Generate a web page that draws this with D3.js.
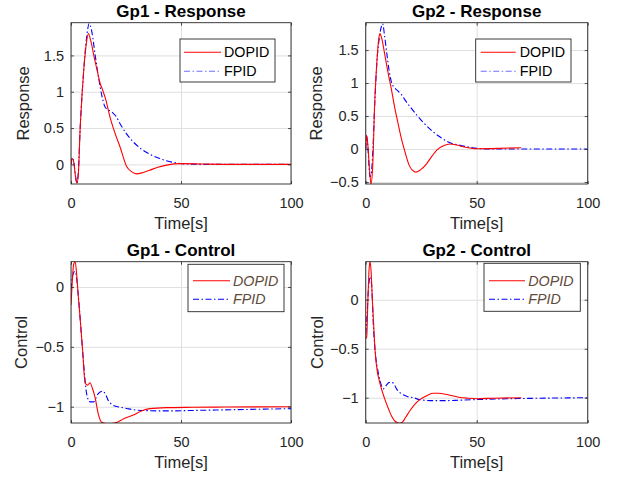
<!DOCTYPE html>
<html lang="en">
<head>
<meta charset="UTF-8">
<title>Gp1 / Gp2 - Response and Control</title>
<style>
  body { margin: 0; background: #fff; }
  svg { font-family: "Liberation Sans", Arial, Helvetica, sans-serif; }
  .tick text { fill: #262626; font-size: 14.5px; }
  .tick line { stroke: #262626; stroke-width: 0.8; }
  .grid .tick line { stroke: #dfdfdf; stroke-width: 1; }
  .title { font-size: 17px; font-weight: bold; fill: #000; }
  .label { font-size: 16.5px; fill: #262626; }
  .legend text { font-size: 14.3px; }
</style>
</head>
<body>
<script src="https://d3js.org/d3.v7.min.js"></script>
<script>
// ticks
const timeTicks = [0, 50, 100];
const respTicks1 = [0, 0.5, 1, 1.5];
const respTicks2 = [-0.5, 0, 0.5, 1, 1.5];
const ctrlTicks = [-1, -0.5, 0];
const seriesNames = ["DOPID", "FPID"];

// Gp1 - Response
const t_gp1_resp_dopid = [0, 0.5, 1.2, 2, 2.7, 3.4, 4.1, 5, 5.8, 6.8, 7.9, 9, 10.5, 12, 13.3, 14.3, 15.9, 17.7, 20, 22.3, 25.3, 27.5, 29.8, 32.5, 35.8, 39.5, 43.4, 50, 60, 75, 100];
const v_gp1_resp_dopid = [0, 0.08, 0.04, -0.16, -0.26, -0.1, 0.45, 0.95, 1.3, 1.62, 1.80, 1.70, 1.48, 1.28, 1.11, 1.03, 0.88, 0.655, 0.43, 0.24, -0.03, -0.10, -0.13, -0.115, -0.08, -0.04, -0.01, 0.01, 0.005, 0, 0];
const t_gp1_resp_fpid = [0, 0.5, 1.2, 2, 2.7, 3.4, 4.1, 5, 5.8, 7, 8.3, 9.5, 11, 12.5, 14, 15.5, 17, 19, 20.5, 22.3, 25, 28.3, 32, 35.8, 40, 43.4, 47, 50.2, 60, 75, 100];
const v_gp1_resp_fpid = [0, 0.09, 0.05, -0.15, -0.26, -0.08, 0.45, 0.95, 1.3, 1.72, 1.94, 1.82, 1.50, 1.20, 0.95, 0.79, 0.75, 0.71, 0.66, 0.56, 0.43, 0.31, 0.21, 0.14, 0.085, 0.05, 0.025, 0.01, 0, 0, 0];

// Gp2 - Response
const t_gp2_resp_dopid = [0, 0.4, 1, 1.7, 2.4, 3.1, 4.1, 5, 5.8, 6.4, 7.2, 8.5, 10, 11.5, 13, 14.5, 16, 17.5, 19.5, 21, 22.5, 24.5, 27.5, 30, 32, 35, 38, 41, 44, 50, 60, 70];
const v_gp2_resp_dopid = [0, 0.21, 0.05, -0.3, -0.53, -0.3, 0.74, 1.3, 1.65, 1.75, 1.68, 1.45, 1.17, 0.92, 0.64, 0.40, 0.17, -0.02, -0.24, -0.32, -0.35, -0.32, -0.22, -0.10, -0.015, 0.05, 0.076, 0.06, 0.035, 0.005, 0.01, 0.02];
const t_gp2_resp_fpid = [0, 0.4, 1, 1.9, 2.5, 3.1, 4.1, 5, 6, 6.8, 7.6, 8.5, 9.5, 10.6, 11.7, 13, 14.5, 16.2, 18, 20.5, 22.9, 26, 30.4, 34, 38, 42, 45.5, 50, 55, 70, 100];
const v_gp2_resp_fpid = [0, 0.2, 0.02, -0.42, -0.38, -0.1, 0.7, 1.3, 1.65, 1.82, 1.90, 1.72, 1.45, 1.18, 1.0, 0.93, 0.88, 0.82, 0.73, 0.62, 0.52, 0.40, 0.26, 0.17, 0.095, 0.06, 0.035, 0.01, 0, 0, 0];

// Gp1 - Control
const t_gp1_ctrl_dopid = [0, 0.6, 1.2, 1.9, 2.5, 3.2, 4.1, 5.3, 6.4, 7.5, 8.6, 9.8, 10.9, 12.4, 13.9, 16, 18.5, 21, 24, 28.3, 32, 35.9, 43.5, 55, 70, 100];
const v_gp1_ctrl_dopid = [-0.15, 0.05, 0.19, 0.21, 0.12, -0.05, -0.25, -0.53, -0.80, -0.82, -0.80, -0.85, -0.92, -1.06, -1.13, -1.14, -1.14, -1.13, -1.10, -1.07, -1.035, -1.016, -1.008, -1.005, -1.003, -1.0];
const t_gp1_ctrl_fpid = [0, 0.6, 1.2, 1.8, 2.5, 3.2, 4.1, 5.6, 7.1, 8.6, 10.2, 11.3, 12.4, 14.4, 15.8, 17, 18.5, 20, 22.5, 25.3, 28.3, 35, 43.5, 58.6, 73.7, 100];
const v_gp1_ctrl_fpid = [-0.02, 0.08, 0.12, 0.13, 0.08, -0.05, -0.25, -0.61, -0.89, -0.96, -0.96, -0.93, -0.89, -0.87, -0.90, -0.95, -0.98, -0.995, -1.005, -1.015, -1.025, -1.033, -1.035, -1.03, -1.025, -1.016];

// Gp2 - Control
const t_gp2_ctrl_dopid = [0, 0.45, 1, 1.5, 1.9, 2.4, 3, 3.4, 4.2, 4.9, 6.4, 8.7, 10.2, 11.7, 13.2, 15, 16.5, 18, 20, 22, 24.4, 27, 30.4, 33, 36, 39, 42.5, 46, 50, 57.6, 70];
const v_gp2_ctrl_dopid = [-0.4, -0.38, 0.0, 0.3, 0.39, 0.3, 0.0, -0.17, -0.51, -0.68, -0.85, -1.02, -1.11, -1.19, -1.24, -1.26, -1.25, -1.20, -1.13, -1.07, -1.02, -0.985, -0.955, -0.955, -0.965, -0.98, -0.997, -1.005, -1.01, -1.005, -1.0];
const t_gp2_ctrl_fpid = [0, 0.5, 1.2, 1.8, 2.2, 2.8, 3.4, 4.2, 5.7, 7, 7.9, 9.4, 10.5, 11.7, 13, 13.9, 15.5, 16.9, 19, 21.5, 24.4, 30, 35, 42.5, 55, 65, 100];
const v_gp2_ctrl_fpid = [-0.35, -0.2, 0.1, 0.22, 0.235, 0.1, -0.24, -0.51, -0.75, -0.87, -0.91, -0.87, -0.845, -0.84, -0.87, -0.91, -0.95, -0.97, -0.99, -1.0, -1.02, -1.03, -1.03, -1.025, -1.015, -1.01, -1.0];

const W = 627, H = 482;
const red = "#ff0000", blue = "#0000ff";

function pts(t, v) { return t.map((d, i) => [d, v[i]]); }

// panel layout (pixels)
const panels = [
  { title: "Gp1 - Response", ylabel: "Response", box: [71, 22.7, 291, 184], ydom: [-0.27, 1.95], yticks: respTicks1,
    lines: [pts(t_gp1_resp_dopid, v_gp1_resp_dopid), pts(t_gp1_resp_fpid, v_gp1_resp_fpid)],
    ylabOff: 42, legend: { x: 180, y: 39, w: 95, h: 43, r1: 13.3, r2: 32.3, l0: 4, l1: 41, tx: 44 }, italic: false },
  { title: "Gp2 - Response", ylabel: "Response", box: [365.7, 22.7, 587.7, 184], ydom: [-0.53, 1.915], yticks: respTicks2,
    lines: [pts(t_gp2_resp_dopid, v_gp2_resp_dopid), pts(t_gp2_resp_fpid, v_gp2_resp_fpid)],
    ylabOff: 43.5, legend: { x: 475.7, y: 39, w: 95.3, h: 43, r1: 13.3, r2: 32.3, l0: 5, l1: 40, tx: 44 }, italic: false },
  { title: "Gp1 - Control", ylabel: "Control", box: [71, 261.7, 291, 423], ydom: [-1.136, 0.211], yticks: ctrlTicks,
    lines: [pts(t_gp1_ctrl_dopid, v_gp1_ctrl_dopid), pts(t_gp1_ctrl_fpid, v_gp1_ctrl_fpid)],
    ylabOff: 44, legend: { x: 188, y: 264.3, w: 96, h: 47.4, r1: 16.4, r2: 35, l0: 5, l1: 42, tx: 45 }, italic: true },
  { title: "Gp2 - Control", ylabel: "Control", box: [365.7, 261.7, 587.7, 423], ydom: [-1.258, 0.388], yticks: ctrlTicks,
    lines: [pts(t_gp2_ctrl_dopid, v_gp2_ctrl_dopid), pts(t_gp2_ctrl_fpid, v_gp2_ctrl_fpid)],
    ylabOff: 43, legend: { x: 484, y: 263.3, w: 96.3, h: 48, r1: 17.4, r2: 36, l0: 5, l1: 41, tx: 44.3 }, italic: true }
];

const svg = d3.select("body").append("svg")
  .attr("width", W).attr("height", H);

panels.forEach(function(p, k) {
  const [x0, y0, x1, y1] = p.box;
  const x = d3.scaleLinear().domain([0, 100]).range([x0, x1]);
  const y = d3.scaleLinear().domain(p.ydom).range([y1, y0]);
  const g = svg.append("g");

  // white plot area
  g.append("rect").attr("x", x0).attr("y", y0).attr("width", x1 - x0).attr("height", y1 - y0).attr("fill", "#fff");

  // grid
  g.append("g").attr("class", "grid").attr("transform", `translate(0,${y1})`)
    .call(d3.axisBottom(x).tickValues(timeTicks).tickSize(-(y1 - y0)).tickFormat(""))
    .call(s => s.select(".domain").remove());
  g.append("g").attr("class", "grid").attr("transform", `translate(${x0},0)`)
    .call(d3.axisLeft(y).tickValues(p.yticks).tickSize(-(x1 - x0)).tickFormat(""))
    .call(s => s.select(".domain").remove());

  // curves
  const clipId = "clip" + k;
  svg.append("clipPath").attr("id", clipId)
    .append("rect").attr("x", x0).attr("y", y0).attr("width", x1 - x0).attr("height", y1 - y0);
  const line = d3.line().x(d => x(d[0])).y(d => y(d[1])).curve(d3.curveMonotoneX);
  const cg = g.append("g").attr("clip-path", `url(#${clipId})`);
  cg.append("path").datum(p.lines[1]).attr("d", line)
    .attr("fill", "none").attr("stroke", blue).attr("stroke-width", 1.1)
    .attr("stroke-dasharray", "6,2.5,1.5,2.5");
  cg.append("path").datum(p.lines[0]).attr("d", line)
    .attr("fill", "none").attr("stroke", red).attr("stroke-width", 1.1);

  // axes, ticks pointing inward
  const fmt = d3.format("~g");
  g.append("g").attr("transform", `translate(0,${y1})`)
    .call(d3.axisBottom(x).tickValues(timeTicks).tickSize(-3).tickPadding(14).tickFormat(fmt))
    .call(s => s.select(".domain").remove());
  g.append("g").attr("transform", `translate(0,${y0})`)
    .call(d3.axisTop(x).tickValues(timeTicks).tickSize(-3).tickFormat(""))
    .call(s => s.select(".domain").remove());
  g.append("g").attr("transform", `translate(${x0},0)`)
    .call(d3.axisLeft(y).tickValues(p.yticks).tickSize(-3).tickPadding(7).tickFormat(fmt))
    .call(s => s.select(".domain").remove());
  g.append("g").attr("transform", `translate(${x1},0)`)
    .call(d3.axisRight(y).tickValues(p.yticks).tickSize(-3).tickFormat(""))
    .call(s => s.select(".domain").remove());

  g.append("rect").attr("x", x0).attr("y", y0).attr("width", x1 - x0).attr("height", y1 - y0)
    .attr("fill", "none").attr("stroke", "#262626").attr("stroke-width", 0.9);

  // texts
  g.append("text").attr("class", "title").attr("x", (x0 + x1) / 2).attr("y", y0 - 6)
    .attr("text-anchor", "middle").text(p.title);
  g.append("text").attr("class", "label").attr("x", (x0 + x1) / 2).attr("y", y1 + 45)
    .attr("text-anchor", "middle").text("Time[s]");
  g.append("text").attr("class", "label").attr("text-anchor", "middle")
    .attr("transform", `translate(${x0 - p.ylabOff},${(y0 + y1) / 2}) rotate(-90)`)
    .text(p.ylabel);

  // legend
  const L = p.legend;
  const lg = g.append("g").attr("class", "legend");
  lg.append("rect").attr("x", L.x).attr("y", L.y).attr("width", L.w).attr("height", L.h)
    .attr("fill", "#fff").attr("stroke", "#262626").attr("stroke-width", 0.9);
  [L.r1, L.r2].forEach(function(r, i) {
    lg.append("line").attr("x1", L.x + L.l0).attr("x2", L.x + L.l1)
      .attr("y1", L.y + r).attr("y2", L.y + r)
      .attr("stroke", i === 0 ? red : (p.italic ? blue : "#6f6fff"))
      .attr("stroke-width", 1.1)
      .attr("stroke-dasharray", i === 0 ? null : "6,2.5,1.5,2.5");
    lg.append("text").attr("x", L.x + L.tx).attr("y", L.y + r).attr("dy", "0.36em")
      .attr("fill", p.italic ? "#5e4a3a" : "#000")
      .style("font-style", p.italic ? "italic" : "normal")
      .text(seriesNames[i]);
  });
});
</script>
</body>
</html>
